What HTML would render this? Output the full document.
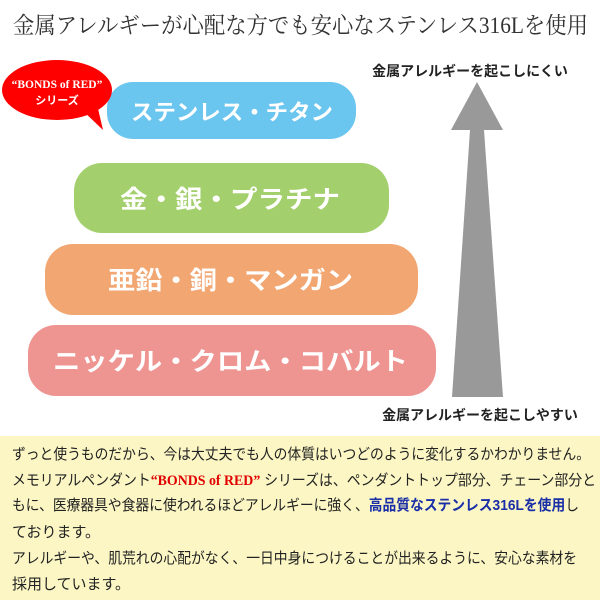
<!DOCTYPE html>
<html><head><meta charset="utf-8"><style>
body{margin:0;width:600px;height:600px;background:#fff;overflow:hidden;position:relative}
svg{position:absolute;left:0;top:0}
</style></head><body>
<svg width="600" height="600" viewBox="0 0 600 600">
<text x="13" y="33" textLength="575" lengthAdjust="spacingAndGlyphs" font-family="Liberation Serif,Noto Serif CJK SC,serif" font-size="23" fill="#333">金属アレルギーが心配な方でも安心なステンレス316Lを使用</text>
<text x="470" y="76" text-anchor="middle" font-family="Liberation Sans,Noto Sans CJK JP,sans-serif" font-size="14" font-weight="bold" fill="#222">金属アレルギーを起こしにくい</text>
<polygon points="477,82 451,130 503,130" fill="#999"/>
<polygon points="470,130 484,130 503,397 452,397" fill="#999"/>
<text x="480" y="420" text-anchor="middle" font-family="Liberation Sans,Noto Sans CJK JP,sans-serif" font-size="14" font-weight="bold" fill="#222">金属アレルギーを起こしやすい</text>
<rect x="107" y="82" width="249" height="57" rx="26" fill="#6ac5ef"/>
<rect x="74" y="163" width="315" height="70" rx="28" fill="#a3cf6c"/>
<rect x="45" y="244" width="373" height="71" rx="28" fill="#f2a672"/>
<rect x="28" y="325" width="408" height="71" rx="28" fill="#ee9592"/>
<g font-family="Liberation Sans,Noto Sans CJK JP,sans-serif" font-weight="bold" fill="#fff" font-size="25">
<text x="131" y="120" textLength="202" lengthAdjust="spacingAndGlyphs" font-size="22">ステンレス・チタン</text>
<text x="120" y="208" textLength="220" lengthAdjust="spacingAndGlyphs">金・銀・プラチナ</text>
<text x="108" y="289" textLength="245" lengthAdjust="spacingAndGlyphs">亜鉛・銅・マンガン</text>
<text x="53" y="370" textLength="355" lengthAdjust="spacingAndGlyphs">ニッケル・クロム・コバルト</text>
</g>
<ellipse cx="57" cy="90" rx="55" ry="30" fill="#f00"/>
<polygon points="80,108 103,130 96,100" fill="#f00"/>
<text x="57" y="88" text-anchor="middle" font-family="Liberation Serif,serif" font-weight="bold" font-size="11.5" fill="#fff">“BONDS of RED”</text>
<text x="57" y="104" text-anchor="middle" font-family="Liberation Sans,Noto Sans CJK JP,sans-serif" font-weight="bold" font-size="11" fill="#fff">シリーズ</text>
<rect x="0" y="436" width="600" height="164" fill="#fbf6c4"/>
<g font-family="Liberation Sans,Noto Sans CJK JP,sans-serif" font-size="15" fill="#222">
<text x="12" y="459" textLength="578" lengthAdjust="spacingAndGlyphs">ずっと使うものだから、今は大丈夫でも人の体質はいつどのように変化するかわかりません。</text>
<text x="12" y="485" textLength="584" lengthAdjust="spacingAndGlyphs">メモリアルペンダント<tspan fill="#e00000" font-family="Liberation Serif,serif" font-weight="bold">“BONDS of RED”</tspan> シリーズは、ペンダントトップ部分、チェーン部分と</text>
<text x="12" y="510" textLength="567" lengthAdjust="spacingAndGlyphs">もに、医療器具や食器に使われるほどアレルギーに強く、<tspan fill="#1a2ea8" font-weight="bold">高品質なステンレス316Lを使用</tspan>し</text>
<text x="12" y="537">ております。</text>
<text x="12" y="563" textLength="565" lengthAdjust="spacingAndGlyphs">アレルギーや、肌荒れの心配がなく、一日中身につけることが出来るように、安心な素材を</text>
<text x="12" y="589">採用しています。</text>
</g>
</svg>
</body></html>
